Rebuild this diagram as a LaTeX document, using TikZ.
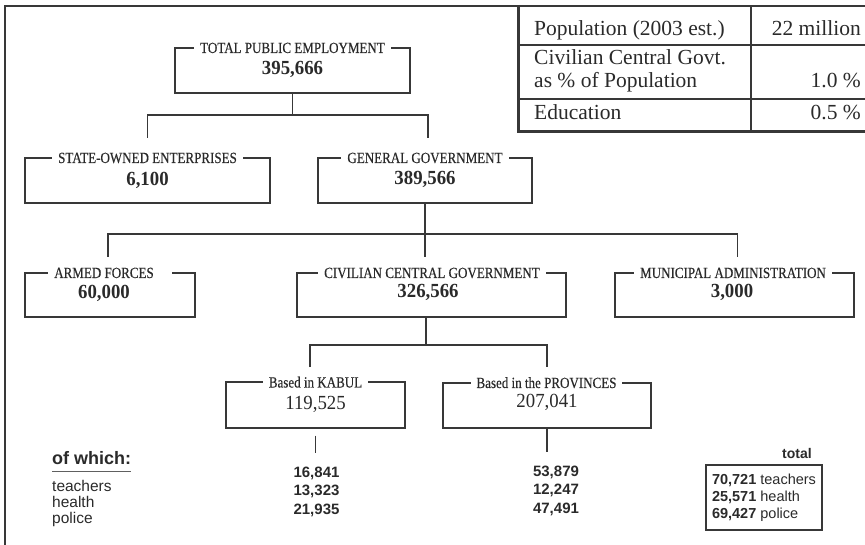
\documentclass[tikz,border=0pt]{standalone}
\usepackage{fontspec}
\setmainfont{Liberation Serif}
\setsansfont{Liberation Sans}
\newfontfamily\ttlfont[FakeStretch=0.84,FakeBold=0.35]{Liberation Serif}
\newfontfamily\numfont[FakeStretch=0.94]{Liberation Serif}
\definecolor{ink}{HTML}{2A2A2A}
\definecolor{ln}{HTML}{383838}
\begin{document}
\begin{tikzpicture}[x=1pt,y=-1pt,
  frameline/.style={draw=ln,line width=2pt},
  tl/.style={draw=ln,line width=1.3pt},
  obox/.style={draw=ln,line width=1.3pt,rectangle,inner sep=0pt},
  ttl/.style={font=\ttlfont\fontsize{15.5}{16}\selectfont,text=ink,fill=white,inner xsep=6pt,inner ysep=2pt,text depth=0pt,anchor=base},
  bnum/.style={font=\numfont\bfseries\fontsize{20}{22}\selectfont,text=ink,inner sep=0pt,anchor=base},
  rnum/.style={font=\numfont\fontsize{20}{22}\selectfont,text=ink,inner sep=0pt,anchor=base},
  tcell/.style={font=\fontsize{21.5}{23}\selectfont,text=ink,inner sep=0pt},
  slist/.style={font=\sffamily\bfseries\fontsize{15}{18.5}\selectfont,text=ink,align=center,inner sep=0pt},
]
\useasboundingbox (0,0) rectangle (865,545);
% outer frame
\draw[frameline] (5,545) -- (5,6) -- (865,6);
% table
\draw[draw=ln,line width=1.4pt] (518,45) -- (865,45);
\draw[draw=ln,line width=1.4pt] (518,99) -- (865,99);
\draw[draw=ln,line width=1.2pt] (751,6) -- (751,132);
\draw[draw=ln,line width=3pt] (518,5) -- (518,132) -- (865,132);
\node[tcell,anchor=base west] (tp) at (534,36) {Population (2003 est.)};
\node[tcell,anchor=base east] (tpv) at (861,36) {22 million};
\node[tcell,anchor=base west] (tc1) at (534,65) {Civilian Central Govt.};
\node[tcell,anchor=base west] (tc2) at (534,88) {as \% of Population};
\node[tcell,anchor=base east] (tcv) at (861,88) {1.0 \%};
\node[tcell,anchor=base west] (te) at (534,120) {Education};
\node[tcell,anchor=base east] (tev) at (861,120) {0.5 \%};
% boxes
\node[obox,minimum width=235pt,minimum height=45pt] (tot) at (292.5,70.5) {};
\node[ttl] (totT) at (292.5,53) {TOTAL PUBLIC EMPLOYMENT};
\node[bnum] (totN) at (292.5,75) {395,666};

\node[obox,minimum width=245pt,minimum height=45pt] (soe) at (147.5,180.5) {};
\node[ttl] (soeT) at (147.5,163) {STATE-OWNED ENTERPRISES};
\node[bnum] (soeN) at (147.5,186) {6,100};

\node[obox,minimum width=214pt,minimum height=45pt] (gg) at (425,180.5) {};
\node[ttl] (ggT) at (425,163) {GENERAL GOVERNMENT};
\node[bnum] (ggN) at (425,185) {389,566};

\node[obox,minimum width=170pt,minimum height=44pt] (af) at (110,295) {};
\node[ttl] (afT) at (110,278) {ARMED FORCES\hspace*{12pt}};
\node[bnum] (afN) at (104,299) {60,000};

\node[obox,minimum width=269pt,minimum height=44pt] (ccg) at (431.5,295) {};
\node[ttl] (ccgT) at (432,278) {CIVILIAN CENTRAL GOVERNMENT};
\node[bnum] (ccgN) at (428,297.5) {326,566};

\node[obox,minimum width=239pt,minimum height=44pt] (mu) at (734.5,295) {};
\node[ttl] (muT) at (733,278) {MUNICIPAL ADMINISTRATION};
\node[bnum] (muN) at (732,297.5) {3,000};

\node[obox,minimum width=179pt,minimum height=46pt] (kb) at (315.5,405) {};
\node[ttl] (kbT) at (315.5,387.5) {Based in KABUL};
\node[rnum] (kbN) at (315.5,409) {119,525};

\node[obox,minimum width=208pt,minimum height=45pt] (pr) at (547,405.5) {};
\node[ttl] (prT) at (546.5,388) {Based in the PROVINCES};
\node[rnum] (prN) at (547,407) {207,041};
% connector points
\coordinate (j1) at (292.5,115);
\coordinate (soeIn) at (147.5,138);
\coordinate (ggIn) at (428,138);
\coordinate (j2) at (425,234);
\coordinate (afIn) at (108,257);
\coordinate (ccgIn) at (425,257);
\coordinate (muIn) at (737.5,257);
\coordinate (j3) at (426,345);
\coordinate (kbIn) at (310,367);
\coordinate (prIn) at (547,367);
% connectors
\draw[tl] (tot.south) -- (j1);
\draw[tl] (soeIn) |- (j1) -| (ggIn);
\draw[tl] (gg.south) -- (ccgIn);
\draw[tl] (afIn) |- (j2) -| (muIn);
\draw[tl] (j3 |- ccg.south) -- (j3);
\draw[tl] (kbIn) |- (j3) -| (prIn);
\draw[tl] ([yshift=-7pt]kb.south) -- ++(0,17);
\draw[tl] (pr.south) -- ++(0,23);
% of which
\node[font=\sffamily\bfseries\fontsize{18}{20}\selectfont,text=ink,inner sep=0pt,anchor=base west] (ow) at (52,464) {of which:};
\draw[draw=ln!80,line width=1.8pt] ([yshift=-7.5pt]ow.base west) -- ([yshift=-7.5pt]ow.base east);
\node[font=\sffamily\fontsize{15.5}{16}\selectfont,text=ink,align=left,inner sep=0pt,anchor=base west] (owl) at (52,523) {teachers\\health\\police};
% numbers
\node[slist,anchor=base] (kbL) at (316.5,514) {16,841\\13,323\\21,935};
\node[slist,anchor=base] (prL) at (556,513) {53,879\\12,247\\47,491};
% total
\node[font=\sffamily\bfseries\fontsize{14}{16}\selectfont,text=ink,inner sep=0pt,anchor=base] (totl) at (797,458) {total};
\node[draw=ln,line width=1.3pt,minimum width=116pt,minimum height=65pt,align=left,inner sep=0pt,font=\sffamily\fontsize{14.5}{17}\selectfont,text=ink] (totb) at (764,497.5) {\textbf{70,721} teachers\\\textbf{25,571} health\\\textbf{69,427} police};
\end{tikzpicture}
\end{document}
